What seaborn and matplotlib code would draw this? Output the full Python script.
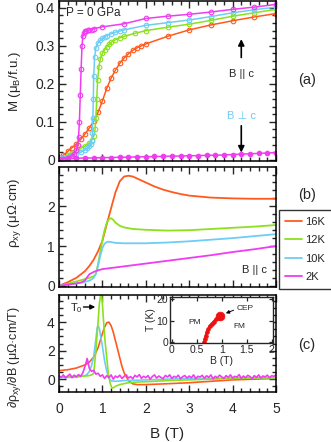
import numpy as np
import pandas as pd
import matplotlib
matplotlib.use('Agg')
import matplotlib.pyplot as plt
import seaborn as sns

# ---- panel (a): magnetization, B || c ----
b_a_16k = [0, 0.1, 0.2, 0.3, 0.4, 0.5, 0.6, 0.7, 0.8, 0.9, 1.0, 1.1, 1.2, 1.3, 1.4, 1.5, 1.6, 1.7, 1.8, 1.9,
           2.0, 2.5, 3.0, 3.5, 4.0, 4.5, 5.0]
m_16k = [0, 0.012, 0.022, 0.032, 0.042, 0.054, 0.068, 0.084, 0.102, 0.125, 0.155, 0.188, 0.215, 0.236, 0.254,
         0.268, 0.279, 0.288, 0.295, 0.300, 0.305, 0.325, 0.342, 0.355, 0.366, 0.376, 0.385]
b_a_12k = [0, 0.1, 0.2, 0.3, 0.4, 0.5, 0.6, 0.7, 0.75, 0.8, 0.83, 0.85, 0.87, 0.89, 0.92, 0.95, 1.0, 1.05, 1.1,
           1.15, 1.2, 1.3, 1.4, 1.5, 1.75, 2.0, 2.5, 3.0, 3.5, 4.0, 4.5, 5.0]
m_12k = [0, 0.006, 0.012, 0.018, 0.024, 0.03, 0.036, 0.045, 0.052, 0.062, 0.08, 0.11, 0.16, 0.21, 0.245, 0.265,
         0.28, 0.29, 0.298, 0.304, 0.309, 0.316, 0.321, 0.325, 0.333, 0.34, 0.349, 0.357, 0.367, 0.378, 0.387, 0.396]
b_a_10k = [0, 0.1, 0.2, 0.3, 0.4, 0.5, 0.6, 0.65, 0.7, 0.73, 0.75, 0.77, 0.78, 0.79, 0.8, 0.82, 0.85, 0.9, 0.95,
           1.0, 1.05, 1.1, 1.2, 1.3, 1.4, 1.5, 2.0, 2.5, 3.0, 3.5, 4.0, 4.5, 5.0]
m_10k = [0, 0.004, 0.008, 0.012, 0.016, 0.02, 0.026, 0.03, 0.036, 0.042, 0.05, 0.07, 0.11, 0.16, 0.22, 0.27,
         0.295, 0.308, 0.315, 0.32, 0.324, 0.327, 0.332, 0.336, 0.339, 0.342, 0.354, 0.361, 0.368, 0.377, 0.387,
         0.395, 0.402]
b_a_2k = [0, 0.1, 0.2, 0.3, 0.35, 0.4, 0.43, 0.45, 0.47, 0.49, 0.51, 0.53, 0.55, 0.57, 0.6, 0.63, 0.66, 0.7, 0.75,
          0.8, 1.0, 1.5, 2.0, 2.5, 3.0, 3.5, 4.0, 4.5, 5.0]
m_2k = [0.0, 0.002, 0.005, 0.01, 0.015, 0.025, 0.04, 0.06, 0.1, 0.17, 0.24, 0.3, 0.326, 0.334, 0.338, 0.34, 0.341,
        0.342, 0.343, 0.345, 0.35, 0.358, 0.372, 0.378, 0.383, 0.389, 0.396, 0.402, 0.409]
# B perpendicular to c, 2K
b_perp = [0, 0.2, 0.4, 0.6, 0.8, 1.0, 1.2, 1.4, 1.6, 1.8, 2.0, 2.2, 2.4, 2.6, 2.8, 3.0, 3.2, 3.4, 3.6, 3.8,
          4.0, 4.2, 4.4, 4.6, 4.8, 5.0]
m_perp = [0.003, 0.004, 0.004, 0.005, 0.005, 0.006, 0.006, 0.007, 0.007, 0.008, 0.008, 0.009, 0.009, 0.010,
          0.010, 0.011, 0.011, 0.012, 0.012, 0.013, 0.014, 0.015, 0.016, 0.017, 0.018, 0.019]

# ---- panel (b): Hall resistivity ----
b_b_16k = [0, 0.2, 0.4, 0.6, 0.7, 0.8, 0.9, 1.0, 1.1, 1.2, 1.3, 1.4, 1.5, 1.6, 1.7, 1.8, 2.0, 2.2, 2.4, 2.6,
           2.8, 3.0, 3.5, 4.0, 4.5, 5.0]
rho_16k = [0, 0.09, 0.2, 0.37, 0.5, 0.66, 0.87, 1.13, 1.55, 1.95, 2.35, 2.63, 2.75, 2.77, 2.75, 2.7, 2.6, 2.5,
           2.42, 2.36, 2.31, 2.27, 2.22, 2.2, 2.19, 2.19]
b_b_12k = [0, 0.2, 0.4, 0.6, 0.7, 0.8, 0.85, 0.9, 0.95, 1.0, 1.05, 1.1, 1.15, 1.2, 1.25, 1.3, 1.4, 1.5, 1.7,
           2.0, 2.5, 3.0, 3.5, 4.0, 4.5, 5.0]
rho_12k = [0, 0.05, 0.11, 0.17, 0.2, 0.24, 0.3, 0.55, 0.85, 1.15, 1.4, 1.58, 1.68, 1.7, 1.66, 1.59, 1.51, 1.47,
           1.43, 1.41, 1.39, 1.4, 1.43, 1.46, 1.49, 1.53]
b_b_10k = [0, 0.2, 0.4, 0.6, 0.7, 0.75, 0.8, 0.85, 0.9, 0.95, 1.0, 1.05, 1.1, 1.15, 1.2, 1.3, 1.5, 2.0, 2.5,
           3.0, 3.5, 4.0, 4.5, 5.0]
rho_10k = [0, 0.03, 0.06, 0.1, 0.13, 0.16, 0.2, 0.3, 0.5, 0.75, 0.95, 1.06, 1.1, 1.11, 1.1, 1.08, 1.07, 1.07,
           1.09, 1.12, 1.16, 1.2, 1.25, 1.3]
b_b_2k = [0, 0.2, 0.4, 0.5, 0.55, 0.6, 0.65, 0.7, 0.8, 0.9, 1.0, 1.5, 2.0, 2.5, 3.0, 3.5, 4.0, 4.5, 5.0]
rho_2k = [0, 0.03, 0.06, 0.08, 0.1, 0.14, 0.22, 0.29, 0.35, 0.39, 0.42, 0.49, 0.56, 0.63, 0.7, 0.77, 0.85,
          0.92, 1.0]

# ---- panel (c): derivative ----
b_c_16k = [0, 0.2, 0.4, 0.6, 0.7, 0.8, 0.9, 0.95, 1.0, 1.05, 1.1, 1.15, 1.2, 1.25, 1.3, 1.35, 1.4, 1.45, 1.5,
           1.6, 1.7, 1.8, 2.0, 2.5, 3.0, 3.5, 4.0, 4.5, 5.0]
d_16k = [0.6, 0.66, 0.78, 1.0, 1.2, 1.55, 2.2, 2.7, 3.2, 3.65, 3.95, 4.0, 3.75, 3.3, 2.7, 2.1, 1.5, 0.9, 0.45,
         -0.1, -0.33, -0.38, -0.38, -0.32, -0.25, -0.15, -0.05, 0.0, 0.05]
b_c_12k = [0, 0.2, 0.4, 0.6, 0.7, 0.75, 0.8, 0.85, 0.9, 0.93, 0.96, 0.98, 1.0, 1.03, 1.06, 1.1, 1.14, 1.18,
           1.22, 1.26, 1.3, 1.4, 1.6, 1.8, 2.0, 2.5, 3.0, 3.5, 4.0, 4.5, 5.0]
d_12k = [0.15, 0.18, 0.2, 0.22, 0.25, 0.3, 0.4, 2.0, 4.0, 5.3, 5.9, 5.95, 5.3, 3.9, 2.7, 1.5, 0.3, -0.3, -0.62,
         -0.6, -0.5, -0.38, -0.25, -0.2, -0.18, -0.1, -0.05, 0.0, 0.05, 0.08, 0.1]
b_c_10k = [0, 0.2, 0.4, 0.5, 0.6, 0.65, 0.7, 0.75, 0.8, 0.85, 0.88, 0.9, 0.93, 0.96, 1.0, 1.05, 1.1, 1.15, 1.2,
           1.3, 1.5, 2.0, 2.5, 3.0, 3.5, 4.0, 4.5, 5.0]
d_10k = [0.1, 0.12, 0.15, 0.18, 0.25, 0.35, 0.55, 0.95, 1.6, 2.8, 3.6, 3.75, 3.55, 3.0, 2.3, 1.3, 0.55, 0.1,
         -0.12, -0.15, -0.1, -0.05, 0.0, 0.05, 0.05, 0.08, 0.1, 0.1]
b_c_2k = np.round(np.arange(0, 5.001, 0.05), 2)
d_2k = [0.25, 0.12, 0.3, 0.08, 0.22, 0.35, 0.1, 0.28, 0.15, 0.32, 0.2,
        0.45, 0.9, 1.45, 0.75, 0.55, 0.62, 0.35, 0.42, 0.2, 0.3,
        0.05, 0.25, 0.1, 0.3, 0.0, 0.22, 0.12, 0.28, 0.05, 0.2,
        0.3, 0.08, 0.18, 0.02, 0.27, 0.15, 0.32, 0.06, 0.2, 0.1,
        0.25, 0.0, 0.18, 0.3, 0.08, 0.22, 0.12, 0.03, 0.26, 0.15,
        0.3, 0.05, 0.2, 0.12, 0.28, 0.02, 0.18, 0.25, 0.08, 0.22,
        0.1, 0.3, 0.04, 0.2, 0.15, 0.27, 0.06, 0.24, 0.12, 0.3,
        0.02, 0.2, 0.1, 0.28, 0.16, 0.05, 0.25, 0.12, 0.3, 0.08,
        0.2, 0.14, 0.32, 0.06, 0.22, 0.1, 0.27, 0.18, 0.04, 0.25,
        0.12, 0.3, 0.08, 0.22, 0.16, 0.28, 0.1, 0.24, 0.2, 0.3]

# ---- inset: phase diagram ----
b_pd = [0.65, 0.66, 0.68, 0.7, 0.73, 0.76, 0.8, 0.84, 0.88, 0.92, 0.95]
t_pd = [0, 1.5, 3, 4.5, 6, 7.5, 8.5, 9.5, 10.5, 11.3, 12]
b_cep, t_cep = 0.97, 12.2

temps = ['16K', '12K', '10K', '2K']
colors = {'16K': '#FF5A1E', '12K': '#8CE11E', '10K': '#6ECDF5', '2K': '#F03CF0'}

sns.set_style('ticks')
plt.rcParams['font.family'] = ['Liberation Sans', 'DejaVu Sans']
plt.rcParams['mathtext.fontset'] = 'custom'
plt.rcParams['mathtext.rm'] = 'Liberation Sans'
plt.rcParams['axes.linewidth'] = 1.1
plt.rcParams['xtick.direction'] = 'in'
plt.rcParams['ytick.direction'] = 'in'

fig = plt.figure(figsize=(3.31, 4.42), dpi=100)
L, W = 59 / 331, 217 / 331
ax_a = fig.add_axes([L, 1 - 161 / 442, W, 160 / 442])
ax_b = fig.add_axes([L, 1 - 287 / 442, W, 120 / 442])
ax_c = fig.add_axes([L, 1 - 392 / 442, W, 97 / 442])


def style_axis(ax, ymajor, yminor):
    ax.set_xlim(0, 5)
    ax.xaxis.set_major_locator(plt.MultipleLocator(1))
    ax.xaxis.set_minor_locator(plt.MultipleLocator(0.2))
    ax.yaxis.set_major_locator(plt.MultipleLocator(ymajor))
    ax.yaxis.set_minor_locator(plt.MultipleLocator(yminor))
    ax.tick_params(which='both', top=True, right=True, width=1.0, labelsize=10, pad=3)
    ax.tick_params(which='major', length=5)
    ax.tick_params(which='minor', length=3)
    for s in ax.spines.values():
        s.set_visible(True)
        s.set_color('black')


# panel (a)
a_sets = {'16K': (b_a_16k, m_16k), '12K': (b_a_12k, m_12k), '10K': (b_a_10k, m_10k), '2K': (b_a_2k, m_2k)}
for t in temps:
    bx, my = a_sets[t]
    sns.lineplot(x=bx, y=my, ax=ax_a, color=colors[t], marker='o', mfc='none', mec=colors[t], ms=3.3, mew=0.8,
                 lw=1.1, sort=False, estimator=None)
sns.lineplot(x=b_perp, y=m_perp, ax=ax_a, color=colors['2K'], marker='o', mfc=colors['2K'], mec=colors['2K'],
             ms=3.3, lw=1.1, sort=False, estimator=None)
style_axis(ax_a, 0.1, 0.02)
ax_a.set_ylim(-0.003, 0.418)
ax_a.set_yticks([0, 0.1, 0.2, 0.3, 0.4])
ax_a.set_yticklabels(['0', '0.1', '0.2', '0.3', '0.4'])
ax_a.tick_params(labelbottom=False)
ax_a.set_ylabel('M (μ$_\\mathregular{B}$/f.u.)', fontsize=9.5)
ax_a.yaxis.set_label_coords(-0.165, 0.5)
ax_a.text(0.15, 0.387, 'P = 0 GPa', fontsize=8.5, va='center')
ax_a.annotate('', xy=(4.2, 0.325), xytext=(4.2, 0.262),
              arrowprops=dict(arrowstyle='-|>', color='black', lw=1.2, mutation_scale=9))
ax_a.text(4.2, 0.227, 'B || c', fontsize=8, ha='center', va='center')
ax_a.text(4.2, 0.115, 'B ⊥ c', fontsize=8, ha='center', va='center', color=colors['10K'])
ax_a.annotate('', xy=(4.2, 0.012), xytext=(4.2, 0.097),
              arrowprops=dict(arrowstyle='-|>', color='black', lw=1.2, mutation_scale=9))

# panel (b)
b_sets = {'16K': (b_b_16k, rho_16k), '12K': (b_b_12k, rho_12k), '10K': (b_b_10k, rho_10k), '2K': (b_b_2k, rho_2k)}
rows = []
for t in temps:
    for bx, ry in zip(*b_sets[t]):
        rows.append((t, bx, ry))
df_b = pd.DataFrame(rows, columns=['T', 'B', 'rho'])
sns.lineplot(data=df_b, x='B', y='rho', hue='T', hue_order=temps, palette=colors, ax=ax_b, lw=1.3,
             estimator=None, sort=False)
style_axis(ax_b, 1, 0.2)
ax_b.set_ylim(-0.03, 2.99)
ax_b.set_yticks([0, 1, 2])
ax_b.set_xlabel('')
ax_b.tick_params(labelbottom=False)
ax_b.set_ylabel('ρ$_\\mathregular{xy}$ (μΩ·cm)', fontsize=9.5)
ax_b.yaxis.set_label_coords(-0.165, 0.62)
ax_b.text(4.5, 0.4, 'B || c', fontsize=8, ha='center', va='center')
leg = ax_b.legend(loc='upper left', bbox_to_anchor=(1.013, 0.64), borderaxespad=0, fontsize=8,
                  frameon=True, fancybox=False, edgecolor='black', handlelength=1.5, handletextpad=0.3,
                  labelspacing=0.75, borderpad=0.6)
leg.get_frame().set_linewidth(1.0)

# panel (c)
c_sets = {'16K': (b_c_16k, d_16k), '12K': (b_c_12k, d_12k), '10K': (b_c_10k, d_10k), '2K': (b_c_2k, d_2k)}
for t in ['16K', '10K', '12K', '2K']:
    bx, dy = c_sets[t]
    sns.lineplot(x=bx, y=dy, ax=ax_c, color=colors[t], lw=1.2, sort=False, estimator=None)
style_axis(ax_c, 2, 0.5)
ax_c.set_ylim(-0.9, 5.9)
ax_c.set_yticks([0, 2, 4])
ax_c.set_xlabel('B (T)', fontsize=11, labelpad=8)
ax_c.set_ylabel('∂ρ$_\\mathregular{xy}$/∂B (μΩ·cm/T)', fontsize=9)
ax_c.yaxis.set_label_coords(-0.165, 0.36)
ax_c.tick_params(axis='x', pad=7)
ax_c.text(0.25, 4.95, 'T$_\\mathregular{0}$', fontsize=8, va='center')
ax_c.annotate('', xy=(0.9, 5.06), xytext=(0.5, 5.06),
              arrowprops=dict(arrowstyle='-|>', color='black', lw=1.0, mutation_scale=7))

# inset
ax_in = fig.add_axes([170 / 331, 1 - 343 / 442, 103 / 331, 46 / 442])
sns.lineplot(x=b_pd, y=t_pd, ax=ax_in, color='#EE1111', lw=1.8, marker='o', ms=2.5, mec='#EE1111',
             sort=False, estimator=None)
sns.scatterplot(x=[b_cep], y=[t_cep], ax=ax_in, color='#EE1111', s=40, edgecolor='#EE1111', zorder=5)
ax_in.set_xlim(-0.04, 2.03)
ax_in.set_ylim(-0.5, 21)
ax_in.set_xticks([0, 0.5, 1, 1.5, 2])
ax_in.set_xticklabels(['0', '0.5', '1', '1.5', '2'])
ax_in.set_yticks([0, 10, 20])
ax_in.tick_params(which='both', top=True, right=True, length=3, width=0.9, labelsize=7.5, pad=1.5)
for s in ax_in.spines.values():
    s.set_linewidth(1.0)
ax_in.set_xlabel('B (T)', fontsize=7.5, labelpad=0.5)
ax_in.set_ylabel('T (K)', fontsize=7.5, labelpad=0.5)
ax_in.text(0.45, 9, 'PM', fontsize=6, ha='center', va='center')
ax_in.text(1.36, 7, 'FM', fontsize=6, ha='center', va='center')
ax_in.text(1.3, 15.7, 'CEP', fontsize=6, va='center')
ax_in.annotate('', xy=(1.03, 12.9), xytext=(1.29, 15.3),
               arrowprops=dict(arrowstyle='-|>', color='black', lw=0.7, mutation_scale=5))

fig.text(307 / 331, 1 - 80 / 442, '(a)', fontsize=10.5, ha='center', va='center')
fig.text(307 / 331, 1 - 195 / 442, '(b)', fontsize=10.5, ha='center', va='center')
fig.text(307 / 331, 1 - 345 / 442, '(c)', fontsize=10.5, ha='center', va='center')

fig.savefig('out.png', dpi=100)
